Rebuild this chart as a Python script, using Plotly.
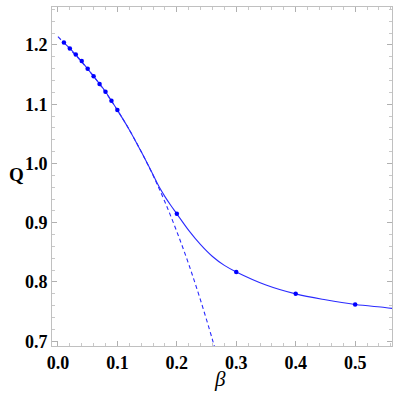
import plotly.graph_objects as go

# Data points (markers)
beta_pts = [0.01, 0.02, 0.03, 0.04, 0.05, 0.06, 0.07, 0.08, 0.09, 0.10, 0.2, 0.3, 0.4, 0.5]
q_pts = [1.204, 1.194, 1.184, 1.173, 1.160, 1.147, 1.134, 1.121, 1.106, 1.090, 0.915, 0.817, 0.780, 0.762]

# Solid curve
beta_solid = [0.01, 0.02, 0.04, 0.06, 0.08, 0.10, 0.12, 0.14, 0.16, 0.17, 0.18, 0.19, 0.20,
              0.22, 0.24, 0.26, 0.28, 0.30, 0.35, 0.40, 0.45, 0.50, 0.55, 0.565]
q_solid = [1.204, 1.194, 1.172, 1.147, 1.121, 1.090, 1.057, 1.020, 0.981, 0.961, 0.944, 0.929, 0.915,
           0.887, 0.863, 0.843, 0.828, 0.817, 0.795, 0.780, 0.770, 0.762, 0.757, 0.755]

# Dashed curve (approximation)
beta_dash = [0.0, 0.02, 0.04, 0.06, 0.08, 0.10, 0.12, 0.14, 0.16, 0.18, 0.20, 0.22, 0.24, 0.26, 0.27]
q_dash = [1.214, 1.193, 1.171, 1.147, 1.120, 1.090, 1.057, 1.020, 0.980, 0.935, 0.885, 0.830, 0.769, 0.7025, 0.667]

x_ticks = [0.0, 0.1, 0.2, 0.3, 0.4, 0.5]
x_ticklabels = ["0.0", "0.1", "0.2", "0.3", "0.4", "0.5"]
y_ticks = [0.7, 0.8, 0.9, 1.0, 1.1, 1.2]
y_ticklabels = ["0.7", "0.8", "0.9", "1.0", "1.1", "1.2"]

SERIF = "Liberation Serif"
blue = "#2a2aff"
fig = go.Figure()
fig.add_trace(go.Scatter(x=beta_dash, y=q_dash, mode="lines", line=dict(color=blue, width=1.1, dash="4px,3px"),
                         line_shape="spline", hoverinfo="skip"))
fig.add_trace(go.Scatter(x=beta_solid, y=q_solid, mode="lines", line=dict(color=blue, width=1.1),
                         line_shape="spline"))
fig.add_trace(go.Scatter(x=beta_pts, y=q_pts, mode="markers", marker=dict(color="#0000ff", size=4.5)))

axis_common = dict(
    showgrid=False, zeroline=False, showline=True, linecolor="#c0c0c0", linewidth=1,
    mirror="ticks", ticks="inside", ticklen=5, tickcolor="#b0b0b0", tickwidth=1,
    automargin=False,
    tickfont=dict(family=SERIF, size=18, color="black"),
    minor=dict(ticks="inside", ticklen=3, tickcolor="#c8c8c8", dtick=0.02),
)
fig.update_layout(
    width=399, height=399,
    margin=dict(l=52, r=7, t=7, b=53),
    paper_bgcolor="white", plot_bgcolor="white",
    showlegend=False,
    font=dict(family=SERIF),
    xaxis=dict(range=[-0.01, 0.562], tickvals=x_ticks, ticktext=["<b>%s</b>" % t for t in x_ticklabels], **axis_common),
    yaxis=dict(range=[0.692, 1.264], tickvals=y_ticks, ticktext=["<b>%s</b>" % t for t in y_ticklabels], **axis_common),
    annotations=[
        dict(text="<b>Q</b>", x=-0.105, y=0.505, xref="paper", yref="paper", showarrow=False,
             font=dict(family=SERIF, size=19, color="black"), xanchor="center", yanchor="middle"),
        dict(text="<i>β</i>", x=0.494, y=-0.098, xref="paper", yref="paper", showarrow=False,
             font=dict(family=SERIF, size=21, color="black"), xanchor="center", yanchor="middle"),
    ],
)
fig.write_html("out.html", config={"displayModeBar": False},
               post_script="document.body.style.margin='0';document.body.style.padding='0';")
